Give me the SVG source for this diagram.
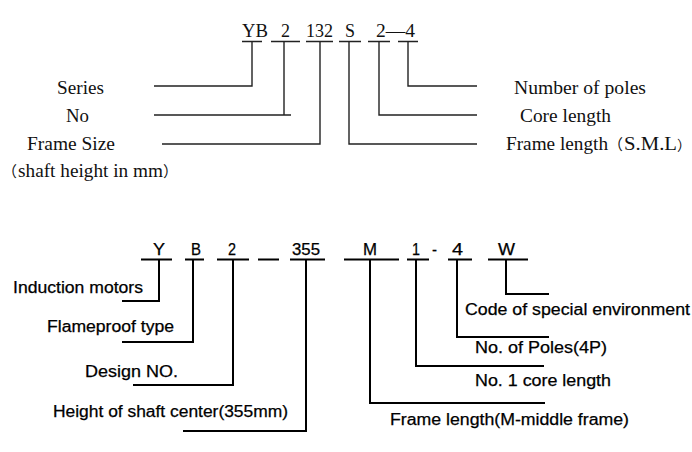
<svg xmlns="http://www.w3.org/2000/svg" width="692" height="452" viewBox="0 0 692 452">
  <style>
    .serif { font-family: "Liberation Serif", "Noto Sans CJK SC", serif; font-size: 19px; fill: #111; }
    .cjk { font-family: "Noto Sans CJK SC", sans-serif; font-size: 15px; }
    .cjk-s { font-family: "Noto Sans CJK SC", sans-serif; font-size: 14px; }
    .sans { font-family: "Liberation Sans", Arial, sans-serif; font-size: 16px; fill: #000; stroke: #000; stroke-width: 0.25; }
    .ln-top { fill: none; stroke: #222; stroke-width: 1.4; }
    .ln-bot { fill: none; stroke: #000; stroke-width: 2; }
  </style>
  <rect x="0" y="0" width="692" height="452" fill="#fff"/>

  <!-- Top code -->
  <g id="top-code">
    <text class="serif" x="242" y="37" textLength="26" lengthAdjust="spacingAndGlyphs">YB</text>
    <text class="serif" x="281" y="37" textLength="9" lengthAdjust="spacingAndGlyphs">2</text>
    <text class="serif" x="306" y="37" textLength="27" lengthAdjust="spacingAndGlyphs">132</text>
    <text class="serif" x="345" y="37" textLength="10" lengthAdjust="spacingAndGlyphs">S</text>
    <text class="serif" x="376" y="37" textLength="39" lengthAdjust="spacingAndGlyphs">2—4</text>
  </g>
  <g id="top-series"><text class="serif" x="57" y="94" textLength="47" lengthAdjust="spacingAndGlyphs">Series</text></g>
  <g id="top-no"><text class="serif" x="66" y="122" textLength="23" lengthAdjust="spacingAndGlyphs">No</text></g>
  <g id="top-frame-size">
    <text class="serif" x="27" y="150" textLength="88" lengthAdjust="spacingAndGlyphs">Frame Size</text>
    <text class="serif" y="177"><tspan class="cjk" x="2">（</tspan><tspan x="18" textLength="145" lengthAdjust="spacingAndGlyphs">shaft height in mm</tspan><tspan class="cjk" x="163">）</tspan></text>
  </g>
  <g id="top-poles"><text class="serif" x="514" y="94" textLength="132" lengthAdjust="spacingAndGlyphs">Number of poles</text></g>
  <g id="top-core"><text class="serif" x="520" y="122" textLength="91" lengthAdjust="spacingAndGlyphs">Core length</text></g>
  <g id="top-frame-length">
    <text class="serif" y="150"><tspan x="506" textLength="102" lengthAdjust="spacingAndGlyphs">Frame length</tspan><tspan class="cjk" x="608">（</tspan><tspan x="624" textLength="53" lengthAdjust="spacingAndGlyphs">S.M.L</tspan><tspan class="cjk-s" x="677">）</tspan></text>
  </g>

  <!-- Bottom code -->
  <g id="bot-code">
    <text class="sans" x="153" y="255" textLength="12" lengthAdjust="spacingAndGlyphs">Y</text>
    <text class="sans" x="191" y="255" textLength="10" lengthAdjust="spacingAndGlyphs">B</text>
    <text class="sans" x="228" y="255" textLength="8" lengthAdjust="spacingAndGlyphs">2</text>
    <text class="sans" x="292" y="255" textLength="28" lengthAdjust="spacingAndGlyphs">355</text>
    <text class="sans" x="363" y="255" textLength="14" lengthAdjust="spacingAndGlyphs">M</text>
    <text class="sans" x="412" y="255" textLength="8" lengthAdjust="spacingAndGlyphs">1</text>
    <text class="sans" x="432" y="255" textLength="5" lengthAdjust="spacingAndGlyphs">-</text>
    <text class="sans" x="452" y="255" textLength="11" lengthAdjust="spacingAndGlyphs">4</text>
    <text class="sans" x="498" y="255" textLength="17" lengthAdjust="spacingAndGlyphs">W</text>
  </g>
  <g id="bot-induction"><text class="sans" x="13" y="293" textLength="130" lengthAdjust="spacingAndGlyphs">Induction motors</text></g>
  <g id="bot-flameproof"><text class="sans" x="47" y="332" textLength="127" lengthAdjust="spacingAndGlyphs">Flameproof type</text></g>
  <g id="bot-design"><text class="sans" x="85" y="377" textLength="93" lengthAdjust="spacingAndGlyphs">Design NO.</text></g>
  <g id="bot-height"><text class="sans" x="53" y="417" textLength="235" lengthAdjust="spacingAndGlyphs">Height of shaft center(355mm)</text></g>
  <g id="bot-special"><text class="sans" x="465" y="315" textLength="225" lengthAdjust="spacingAndGlyphs">Code of special environment</text></g>
  <g id="bot-poles"><text class="sans" x="475" y="353" textLength="132" lengthAdjust="spacingAndGlyphs">No. of Poles(4P)</text></g>
  <g id="bot-core"><text class="sans" x="475" y="386" textLength="136" lengthAdjust="spacingAndGlyphs">No. 1 core length</text></g>
  <g id="bot-frame"><text class="sans" x="390" y="425" textLength="239" lengthAdjust="spacingAndGlyphs">Frame length(M-middle frame)</text></g>

  <!-- Connectors -->
  <g id="connectors">
    <path class="ln-top" d="M242 41.5H262M271 41.5H300M306 41.5H333M339 41.5H361M368 41.5H390M398 41.5H418"/>
    <path class="ln-top" d="M252 41.5V86H154"/>
    <path class="ln-top" d="M284 41.5V115M154 115H291"/>
    <path class="ln-top" d="M320 41.5V144H162"/>
    <path class="ln-top" d="M349 41.5V144H477"/>
    <path class="ln-top" d="M379 41.5V115H477"/>
    <path class="ln-top" d="M408 41.5V86H477"/>

    <path class="ln-bot" d="M141 259.5H172M185 259.5H204M217 259.5H249M258 259.5H279M290 259.5H325M344 259.5H399M407 259.5H429M448 259.5H472M488 259.5H528"/>
    <path class="ln-bot" d="M159 259.5V301H122"/>
    <path class="ln-bot" d="M193 259.5V342H122"/>
    <path class="ln-bot" d="M233 259.5V385H133"/>
    <path class="ln-bot" d="M306 259.5V431H183"/>
    <path class="ln-bot" d="M370 259.5V403H545"/>
    <path class="ln-bot" d="M416 259.5V366H544"/>
    <path class="ln-bot" d="M457 259.5V337H549"/>
    <path class="ln-bot" d="M506 259.5V294H549"/>
  </g>
</svg>
